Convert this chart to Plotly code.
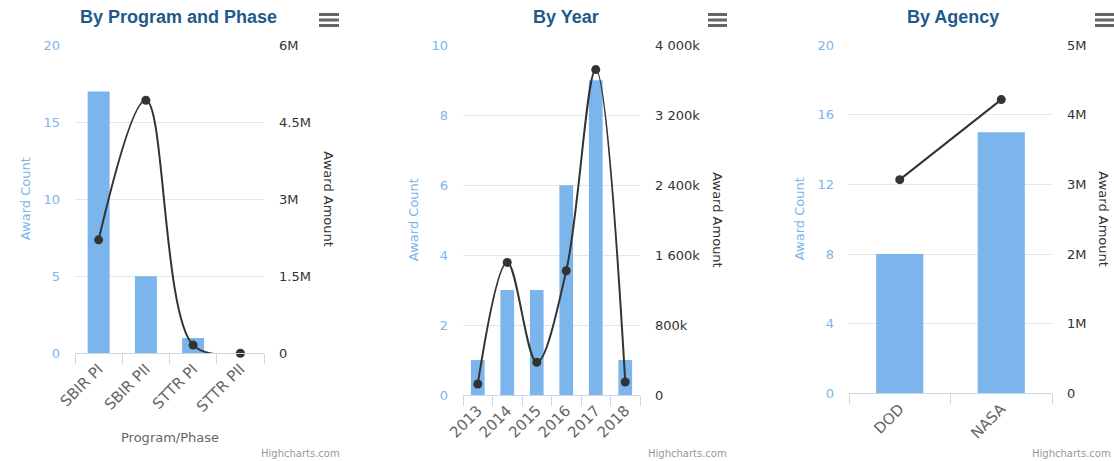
import plotly.graph_objects as go

# ---------------- data ----------------
prog_cats = ["SBIR PI", "SBIR PII", "STTR PI", "STTR PII"]
prog_counts = [17, 5, 1, 0]
prog_amounts = [2210000, 4930000, 160000, 0]

year_cats = ["2013", "2014", "2015", "2016", "2017", "2018"]
year_counts = [1, 3, 3, 6, 9, 1]
year_amounts = [126000, 1517000, 374000, 1421000, 3722000, 149000]

agency_cats = ["DOD", "NASA"]
agency_counts = [8, 15]
agency_amounts = [3070000, 4220000]

prog_count_ticks = [0, 5, 10, 15, 20]
prog_amount_ticks = [0, 1500000, 3000000, 4500000, 6000000]
prog_amount_labels = ["0", "1.5M", "3M", "4.5M", "6M"]

year_count_ticks = [0, 2, 4, 6, 8, 10]
year_amount_ticks = [0, 800000, 1600000, 2400000, 3200000, 4000000]
year_amount_labels = ["0", "800k", "1 600k", "2 400k", "3 200k", "4 000k"]

agency_count_ticks = [0, 4, 8, 12, 16, 20]
agency_amount_ticks = [0, 1000000, 2000000, 3000000, 4000000, 5000000]
agency_amount_labels = ["0", "1M", "2M", "3M", "4M", "5M"]

titles = ["By Program and Phase", "By Year", "By Agency"]

# ---------------- layout helpers ----------------
W, H = 1114, 461
def fx(px):
    return px / W
def fy(py):
    return 1 - py / H

BAR = "#7cb5ec"
LINE = "#333333"
TITLE = "#1f5a8c"
FONT = "DejaVu Sans"

panels = [
    dict(cats=prog_cats, counts=prog_counts, amounts=prog_amounts,
         xd=(75, 264), yd=(45.3, 353.3), crange=[0, 20], cticks=prog_count_ticks,
         arange=[0, 6000000], aticks=prog_amount_ticks, alabels=prog_amount_labels,
         title_x=178, ltitle_x=25, rtitle_x=329, credit_x=342, menu_x=(319, 339)),
    dict(cats=year_cats, counts=year_counts, amounts=year_amounts,
         xd=(463, 640), yd=(45.3, 395), crange=[0, 10], cticks=year_count_ticks,
         arange=[0, 4000000], aticks=year_amount_ticks, alabels=year_amount_labels,
         title_x=566, ltitle_x=413, rtitle_x=718, credit_x=729, menu_x=(708, 727)),
    dict(cats=agency_cats, counts=agency_counts, amounts=agency_amounts,
         xd=(849, 1052), yd=(45.3, 393.3), crange=[0, 20], cticks=agency_count_ticks,
         arange=[0, 5000000], aticks=agency_amount_ticks, alabels=agency_amount_labels,
         title_x=953, ltitle_x=799, rtitle_x=1104, credit_x=1113, menu_x=(1095, 1114)),
]

fig = go.Figure()
layout = dict(
    width=W, height=H, autosize=False,
    margin=dict(l=0, r=0, t=0, b=0, autoexpand=False),
    paper_bgcolor="white", plot_bgcolor="white",
    showlegend=False, bargap=0.535,
    font=dict(family=FONT, size=13, color="#666666"),
)
annotations = []
shapes = []

for i, p in enumerate(panels):
    xn = "x" if i == 0 else f"x{i+1}"
    yl = 2 * i + 1
    yr = 2 * i + 2
    yln = "y" if yl == 1 else f"y{yl}"
    yrn = f"y{yr}"
    fig.add_trace(go.Bar(x=p["cats"], y=p["counts"], xaxis=xn, yaxis=yln,
                         marker=dict(color=BAR, line=dict(width=0)), name="Award Count"))
    fig.add_trace(go.Scatter(x=p["cats"], y=p["amounts"], xaxis=xn, yaxis=yrn,
                             mode="lines+markers",
                             line=dict(color=LINE, width=2, shape="spline", smoothing=1.0),
                             marker=dict(color=LINE, size=9), name="Award Amount",
                             cliponaxis=False))
    xkey = "xaxis" if i == 0 else f"xaxis{i+1}"
    ylkey = "yaxis" if yl == 1 else f"yaxis{yl}"
    yrkey = f"yaxis{yr}"
    y0, y1 = fy(p["yd"][1]), fy(p["yd"][0])
    layout[xkey] = dict(domain=[fx(p["xd"][0]), fx(p["xd"][1])], anchor=yln,
                        type="category", range=[-0.5, len(p["cats"]) - 0.5],
                        showline=True, linecolor="#ccd6eb", linewidth=1,
                        ticks="outside", tickson="boundaries", ticklen=10,
                        tickcolor="#ccd6eb", tickwidth=1, tickangle=-45,
                        tickfont=dict(family=FONT, size=15, color="#666666"),
                        showgrid=False, zeroline=False, fixedrange=True, automargin=False)
    layout[ylkey] = dict(domain=[y0, y1], anchor=xn, range=p["crange"],
                         tickvals=p["cticks"], ticks="", ticklabelstandoff=14,
                         tickfont=dict(family=FONT, size=13, color=BAR),
                         showgrid=True, gridcolor="#e6e6e6", gridwidth=1,
                         zeroline=False, showline=False, fixedrange=True, automargin=False)
    layout[yrkey] = dict(domain=[y0, y1], anchor=xn, overlaying=yln, side="right",
                         range=p["arange"], tickvals=p["aticks"], ticktext=p["alabels"],
                         ticks="", ticklabelstandoff=14,
                         tickfont=dict(family=FONT, size=13, color="#333333"),
                         showgrid=False, zeroline=False, showline=False, fixedrange=True,
                         automargin=False)
    ymid = (p["yd"][0] + p["yd"][1]) / 2
    annotations += [
        dict(text=f"<b>{titles[i]}</b>", x=fx(p["title_x"]), y=fy(17), xref="paper", yref="paper",
             xanchor="center", yanchor="middle", showarrow=False,
             font=dict(family="Liberation Sans", size=18, color=TITLE)),
        dict(text="Award Count", x=fx(p["ltitle_x"]), y=fy(ymid), xref="paper", yref="paper",
             xanchor="center", yanchor="middle", showarrow=False, textangle=-90,
             font=dict(family=FONT, size=13, color=BAR)),
        dict(text="Award Amount", x=fx(p["rtitle_x"]), y=fy(ymid), xref="paper", yref="paper",
             xanchor="center", yanchor="middle", showarrow=False, textangle=90,
             font=dict(family=FONT, size=13, color="#333333")),
        dict(text="Highcharts.com", x=fx(p["credit_x"]), y=fy(453), xref="paper", yref="paper",
             xanchor="right", yanchor="middle", showarrow=False,
             font=dict(family=FONT, size=10, color="#999999")),
    ]
    for ly in (14.5, 20, 25.5):
        shapes.append(dict(type="line", xref="paper", yref="paper",
                           x0=fx(p["menu_x"][0]), x1=fx(p["menu_x"][1]), y0=fy(ly), y1=fy(ly),
                           line=dict(color="#666666", width=3)))

annotations.append(dict(text="Program/Phase", x=fx(170), y=fy(437), xref="paper", yref="paper",
                        xanchor="center", yanchor="middle", showarrow=False,
                        font=dict(family=FONT, size=13, color="#666666")))

layout["annotations"] = annotations
layout["shapes"] = shapes
fig.update_layout(**layout)
fig.write_html("out.html")
